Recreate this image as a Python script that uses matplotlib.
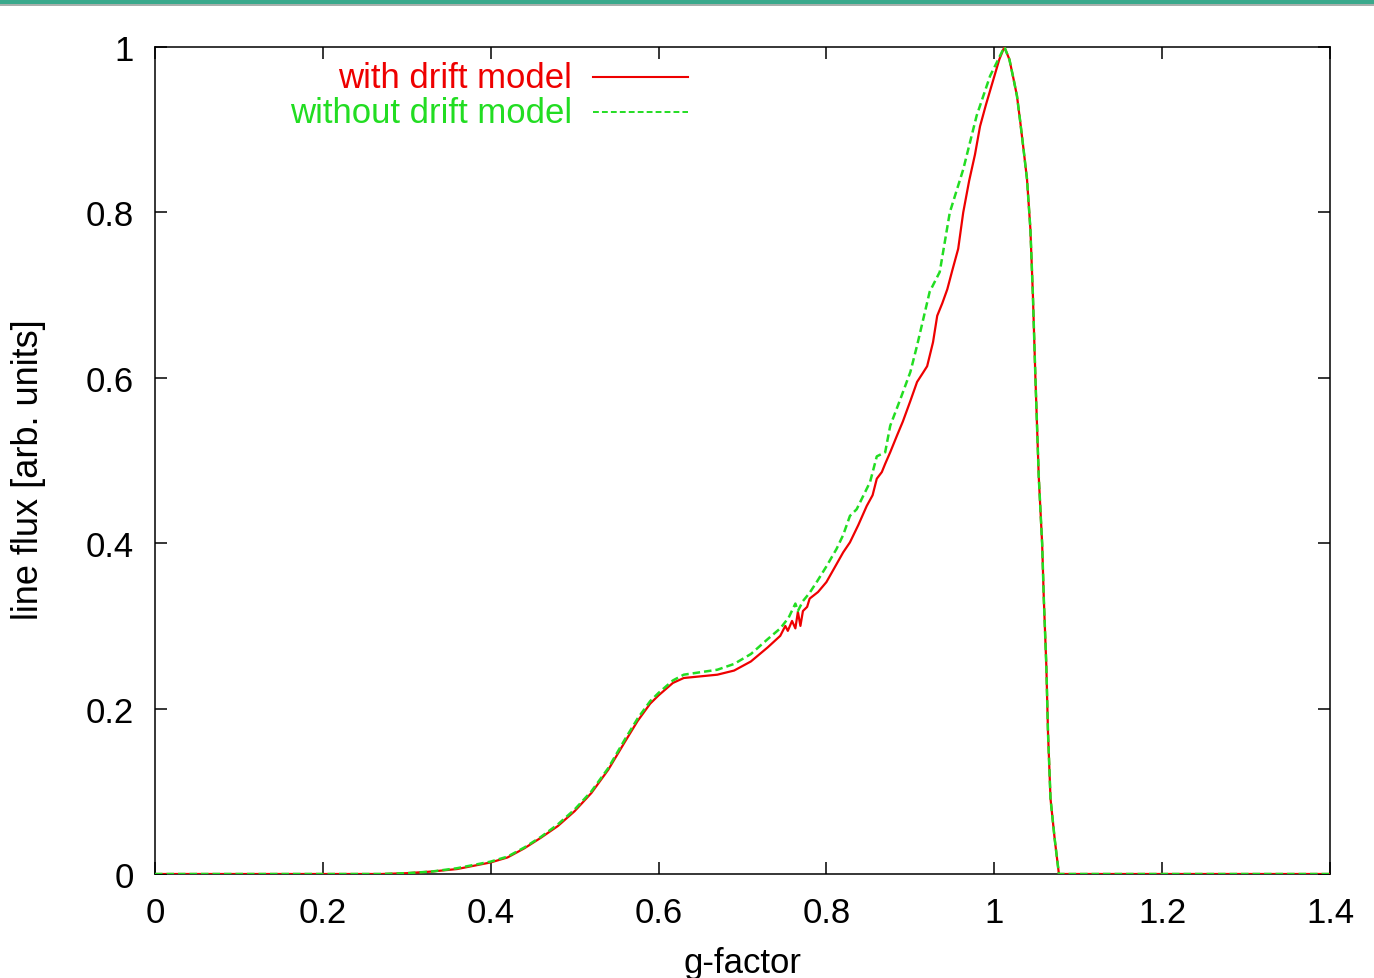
import matplotlib
matplotlib.use("Agg")
import matplotlib.pyplot as plt
from matplotlib.patches import Rectangle

# Line flux profiles versus g-factor
with_drift_g = [0.0, 0.27, 0.30, 0.33, 0.36, 0.40, 0.42, 0.44, 0.46, 0.48, 0.50,
                0.52, 0.54, 0.56, 0.575, 0.59, 0.60, 0.617, 0.63, 0.65, 0.67,
                0.69, 0.71, 0.73, 0.745, 0.751, 0.754, 0.759, 0.763, 0.766,
                0.769, 0.772, 0.777, 0.78, 0.79, 0.80, 0.81, 0.82, 0.828,
                0.838, 0.848, 0.855, 0.860, 0.866, 0.870, 0.876, 0.884, 0.891,
                0.900, 0.908, 0.915, 0.920, 0.927, 0.932, 0.938, 0.944, 0.950,
                0.957, 0.963, 0.970, 0.977, 0.983, 0.990, 0.999, 1.006, 1.012,
                1.018, 1.023, 1.027, 1.031, 1.035, 1.039, 1.043, 1.046, 1.049,
                1.053, 1.057, 1.059, 1.062, 1.064, 1.067, 1.072, 1.077, 1.4]
with_drift_flux = [0.0, 0.0, 0.001, 0.003, 0.006, 0.014, 0.020, 0.031, 0.044,
                   0.058, 0.076, 0.098, 0.126, 0.160, 0.185, 0.206, 0.216,
                   0.231, 0.237, 0.239, 0.241, 0.246, 0.257, 0.274, 0.288,
                   0.300, 0.294, 0.306, 0.297, 0.317, 0.300, 0.318, 0.323,
                   0.333, 0.341, 0.353, 0.371, 0.389, 0.401, 0.422, 0.445,
                   0.458, 0.478, 0.486, 0.496, 0.510, 0.530, 0.547, 0.572,
                   0.595, 0.606, 0.614, 0.643, 0.675, 0.690, 0.707, 0.730,
                   0.756, 0.800, 0.838, 0.870, 0.904, 0.930, 0.961, 0.985,
                   1.000, 0.985, 0.961, 0.941, 0.909, 0.875, 0.840, 0.780,
                   0.700, 0.600, 0.480, 0.400, 0.333, 0.252, 0.171, 0.091,
                   0.042, 0.0, 0.0]

no_drift_g = [0.0, 0.27, 0.30, 0.33, 0.36, 0.40, 0.42, 0.44, 0.46, 0.48, 0.50,
              0.52, 0.54, 0.56, 0.575, 0.59, 0.60, 0.617, 0.63, 0.65, 0.67,
              0.69, 0.71, 0.73, 0.745, 0.755, 0.763, 0.766, 0.772, 0.78,
              0.789, 0.80, 0.812, 0.82, 0.828, 0.836, 0.852, 0.860, 0.870,
              0.876, 0.888, 0.900, 0.908, 0.923, 0.935, 0.947, 0.963, 0.979,
              0.995, 1.012, 1.018, 1.023, 1.027, 1.031, 1.035, 1.039, 1.043,
              1.046, 1.049, 1.053, 1.057, 1.059, 1.062, 1.064, 1.067, 1.072,
              1.077, 1.4]
no_drift_flux = [0.0, 0.0, 0.001, 0.003, 0.007, 0.015, 0.021, 0.032, 0.045,
                 0.060, 0.078, 0.100, 0.128, 0.163, 0.188, 0.209, 0.219,
                 0.234, 0.241, 0.244, 0.247, 0.254, 0.266, 0.284, 0.297,
                 0.310, 0.327, 0.318, 0.330, 0.340, 0.354, 0.372, 0.393,
                 0.410, 0.433, 0.441, 0.474, 0.505, 0.510, 0.542, 0.574,
                 0.607, 0.639, 0.704, 0.728, 0.800, 0.852, 0.917, 0.965,
                 1.000, 0.985, 0.961, 0.941, 0.909, 0.875, 0.840, 0.780,
                 0.700, 0.600, 0.480, 0.400, 0.333, 0.252, 0.171, 0.091,
                 0.042, 0.0, 0.0]

x_ticks = [0, 0.2, 0.4, 0.6, 0.8, 1.0, 1.2, 1.4]
x_tick_labels = ["0", "0.2", "0.4", "0.6", "0.8", "1", "1.2", "1.4"]
y_ticks = [0, 0.2, 0.4, 0.6, 0.8, 1.0]
y_tick_labels = ["0", "0.2", "0.4", "0.6", "0.8", "1"]

series_labels = ["with drift model", "without drift model"]
RED = "#ee0000"
GREEN = "#22dd22"
FONT = "Liberation Sans"
FS = 25

plt.rcParams["font.family"] = [FONT, "DejaVu Sans"]

W, H = 1374, 979
fig = plt.figure(figsize=(W / 100, H / 100), dpi=100)
fig.patch.set_facecolor("white")

# decorative band along the top edge
fig.patches.append(Rectangle((0, 1 - 5 / H), 1, 5 / H, transform=fig.transFigure,
                             facecolor="#3aa98c", edgecolor="none", zorder=0))
fig.patches.append(Rectangle((0, 1 - 7 / H), 1, 2 / H, transform=fig.transFigure,
                             facecolor="#a8b0ac", edgecolor="none", zorder=0))

left, right, bottom, top = 155 / W, 1330 / W, 1 - 875 / H, 1 - 48 / H
ax = fig.add_axes([left, bottom, right - left, top - bottom])

DASH = (0, (3.0, 1.6))
ax.plot(with_drift_g, with_drift_flux, color=RED, lw=1.6, zorder=3)
ax.plot(no_drift_g, no_drift_flux, color=GREEN, lw=1.8, linestyle=DASH,
        zorder=4)

ax.set_xlim(0, 1.4)
ax.set_ylim(0, 1)
ax.set_xticks(x_ticks)
ax.set_xticklabels(x_tick_labels)
ax.set_yticks(y_ticks)
ax.set_yticklabels(y_tick_labels)
ax.tick_params(direction="in", length=8.5, width=1.1, top=True, right=True,
               labelsize=FS, colors="black")
ax.tick_params(axis="y", pad=15)
ax.tick_params(axis="x", pad=16)
for s in ax.spines.values():
    s.set_linewidth(1.1)
    s.set_color("black")

ax.set_xlabel("g-factor", fontsize=FS)
ax.set_ylabel("line flux [arb. units]", fontsize=26)
ax.xaxis.set_label_coords(0.5, -0.087)
ax.yaxis.set_label_coords(-0.093, 0.49)

# key: right-aligned labels followed by line samples
key_rows = [(0.9637, RED, "-", 1.5), (0.9214, GREEN, DASH, 1.4)]
for (yy, col, ls, lw), lab in zip(key_rows, series_labels):
    ax.text(0.355, yy, lab, transform=ax.transAxes, ha="right", va="center",
            color=col, fontsize=FS)
    ax.plot([0.3728, 0.4536], [yy, yy], transform=ax.transAxes, color=col,
            lw=lw, linestyle=ls, zorder=5)

fig.savefig("out.png", dpi=100, facecolor="white")
